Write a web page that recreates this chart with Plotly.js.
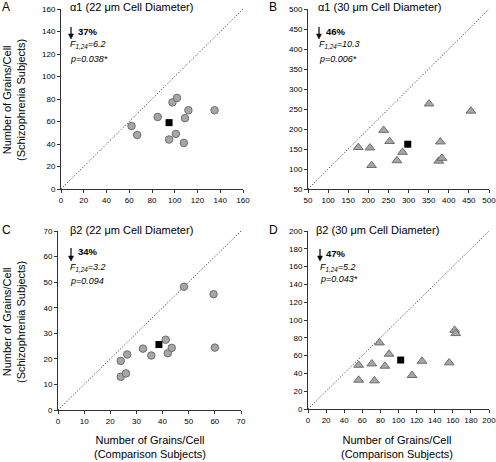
<!DOCTYPE html>
<html><head><meta charset="utf-8">
<script src="https://cdn.plot.ly/plotly-3.0.1.min.js"></script>
<style>html,body{margin:0;padding:0;background:#fff}#c{width:496px;height:462px}</style>
</head><body><div id="c"></div>
<script>
// Panel A: alpha1, 22 um
const aX = [62, 67, 85, 98, 102, 95, 101, 108, 109, 112, 135];
const aY = [56, 48, 64, 77, 81, 44, 49, 41, 63, 70, 70];
const aMean = [95, 59];
// Panel B: alpha1, 30 um
const bX = [175, 204, 208, 238, 253, 285, 271, 351, 379, 375, 383, 455];
const bY = [154, 153, 109, 197, 169, 142, 121, 263, 168, 120, 127, 245];
const bMean = [298, 162];
// Panel C: beta2, 22 um
const cX = [24, 24, 26, 26.5, 32.5, 35.7, 41.2, 42, 43.5, 48.2, 59.5, 60];
const cY = [19.2, 13, 14.3, 21.7, 24, 21.3, 27.5, 22.2, 24.3, 48.2, 45.3, 24.4];
const cMean = [38.6, 25.6];
// Panel D: beta2, 30 um
const dX = [56, 56, 70.5, 73.4, 79, 85, 89.5, 115, 126, 156, 162, 163.3];
const dY = [49.3, 32.5, 50.8, 31.8, 74.4, 48.2, 61.7, 37.8, 53.8, 52, 88.6, 84.9];
const dMean = [102.4, 55];

const ranges = {A: [0, 160], B: [50, 500], C: [0, 70], D: [0, 200]};
const dticks = {A: 20, B: 50, C: 10, D: 20};
const titles = {A: 'α1 (22 μm Cell Diameter)', B: 'α1 (30 μm Cell Diameter)',
                C: 'β2 (22 μm Cell Diameter)', D: 'β2 (30 μm Cell Diameter)'};
const pct = {A: '37%', B: '46%', C: '34%', D: '47%'};
const fstat = {A: '6.2', B: '10.3', C: '3.2', D: '5.2'};
const pval = {A: 'p=0.038*', B: 'p=0.006*', C: 'p=0.094', D: 'p=0.043*'};

const W = 496, H = 462;
const FONT = 'Arial, "Liberation Sans", sans-serif';
const circ = {symbol: 'circle', size: 7.5, color: '#a6a6a6', line: {color: '#6e6e6e', width: 1}};
const tri = {symbol: 'triangle-up', size: 8.5, color: '#a6a6a6', line: {color: '#6e6e6e', width: 1}};
const sq = {symbol: 'square', size: 7, color: '#000', line: {color: '#000', width: 0}};

const panels = [
  {k: 'A', x: aX, y: aY, m: aMean, mk: circ, ax: 'x', ay: 'y'},
  {k: 'B', x: bX, y: bY, m: bMean, mk: tri, ax: 'x2', ay: 'y2'},
  {k: 'C', x: cX, y: cY, m: cMean, mk: circ, ax: 'x3', ay: 'y3'},
  {k: 'D', x: dX, y: dY, m: dMean, mk: tri, ax: 'x4', ay: 'y4'}
];

const traces = [];
panels.forEach(p => {
  const r = ranges[p.k];
  traces.push({x: r, y: r, xaxis: p.ax, yaxis: p.ay, mode: 'lines', type: 'scatter',
    line: {color: '#222', width: 1, dash: '1px,2px'}, hoverinfo: 'skip', cliponaxis: false});
  traces.push({x: p.x, y: p.y, xaxis: p.ax, yaxis: p.ay, mode: 'markers', type: 'scatter',
    marker: p.mk, cliponaxis: false});
  traces.push({x: [p.m[0]], y: [p.m[1]], xaxis: p.ax, yaxis: p.ay, mode: 'markers', type: 'scatter',
    marker: sq, cliponaxis: false});
});

function dx(a, b) { return [a / W, b / W]; }
function dy(top, bot) { return [1 - bot / H, 1 - top / H]; }
function axis(k, dom, anchor) {
  return {domain: dom, range: ranges[k], dtick: dticks[k], tick0: 0, anchor: anchor,
    showgrid: false, zeroline: false, showline: true, linecolor: '#333', linewidth: 1,
    ticks: 'outside', ticklen: 3, tickcolor: '#333', tickwidth: 1, ticklabeloverflow: 'allow',
    tickfont: {size: 8, family: FONT, color: '#000'}, fixedrange: true};
}
const layout = {
  width: W, height: H, margin: {l: 0, r: 0, t: 0, b: 0},
  paper_bgcolor: '#fff', plot_bgcolor: '#fff', showlegend: false,
  xaxis: axis('A', dx(61, 243), 'y'), yaxis: axis('A', dy(9, 189), 'x'),
  xaxis2: axis('B', dx(308, 489), 'y2'), yaxis2: axis('B', dy(9, 189), 'x2'),
  xaxis3: axis('C', dx(58, 241), 'y3'), yaxis3: axis('C', dy(231, 410), 'x3'),
  xaxis4: axis('D', dx(308, 489), 'y4'), yaxis4: axis('D', dy(231, 409), 'x4'),
  annotations: [], shapes: []
};

function ann(x, y, text, o) {
  layout.annotations.push(Object.assign({xref: 'paper', yref: 'paper', x: x / W, y: 1 - y / H,
    text: text, showarrow: false, xanchor: 'left', yanchor: 'middle',
    font: {family: FONT, size: 9, color: '#000'}}, o || {}));
}
function px(x) { return x / W; }
function py(y) { return 1 - y / H; }
function arrow(x, top, bot) {
  layout.shapes.push({type: 'line', xref: 'paper', yref: 'paper', x0: px(x), x1: px(x),
    y0: py(top), y1: py(bot - 3), line: {color: '#000', width: 1.2}});
  layout.shapes.push({type: 'path', xref: 'paper', yref: 'paper',
    path: 'M ' + px(x - 2.5) + ',' + py(bot - 5) + ' L ' + px(x + 2.5) + ',' + py(bot - 5) +
          ' L ' + px(x) + ',' + py(bot) + ' Z',
    fillcolor: '#000', line: {color: '#000', width: 0.5}});
}
const pos = {
  A: {lx: 6, ly: 7, tx: 68, ty: 7, arx: 71, art: 27, arb: 39, px: 76, py: 31, fx: 68, fy: 44, qx: 68, qy: 59},
  B: {lx: 273, ly: 7, tx: 316, ty: 7, arx: 319, art: 27, arb: 39, px: 324, py: 31, fx: 317, fy: 44, qx: 317, qy: 59},
  C: {lx: 6, ly: 230, tx: 68, ty: 230, arx: 71, art: 248, arb: 261, px: 76, py: 252, fx: 68, fy: 267, qx: 68, qy: 281},
  D: {lx: 273, ly: 230, tx: 314, ty: 230, arx: 320, art: 249, arb: 261, px: 324, py: 253, fx: 318, fy: 267, qx: 318, qy: 279}
};
panels.forEach(p => {
  const q = pos[p.k];
  ann(q.lx, q.ly, p.k, {xanchor: 'center', font: {family: FONT, size: 12, color: '#000'}});
  ann(q.tx, q.ty, titles[p.k], {font: {family: FONT, size: 11, color: '#000'}});
  ann(q.px, q.py, '<b>' + pct[p.k] + '</b>', {font: {family: FONT, size: 9.5, color: '#000'}});
  ann(q.fx, q.fy, '<i>F<sub>1,24</sub>=' + fstat[p.k] + '</i>');
  ann(q.qx, q.qy, '<i>' + pval[p.k] + '</i>');
  arrow(q.arx, q.art, q.arb);
});
const tf = {family: FONT, size: 11, color: '#000'};
ann(14, 100, 'Number of Grains/Cell<br>(Schizophrenia Subjects)', {xanchor: 'center', textangle: -90, font: tf});
ann(14, 322, 'Number of Grains/Cell<br>(Schizophrenia Subjects)', {xanchor: 'center', textangle: -90, font: tf});
ann(150, 447, 'Number of Grains/Cell<br>(Comparison Subjects)', {xanchor: 'center', font: tf});
ann(397, 447, 'Number of Grains/Cell<br>(Comparison Subjects)', {xanchor: 'center', font: tf});

Plotly.newPlot('c', traces, layout, {staticPlot: true, displayModeBar: false});
</script></body></html>
